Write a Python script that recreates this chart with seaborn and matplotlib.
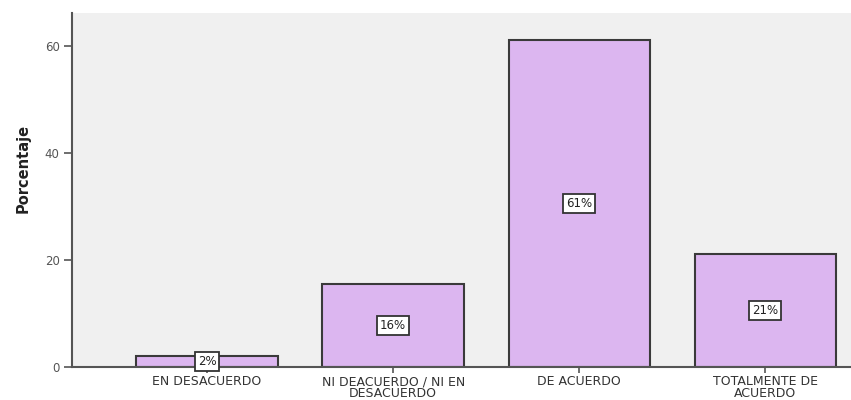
import matplotlib
matplotlib.use("Agg")
import matplotlib.pyplot as plt
import seaborn as sns
import pandas as pd

categories = ["EN DESACUERDO", "NI DEACUERDO / NI EN\nDESACUERDO", "DE ACUERDO", "TOTALMENTE DE\nACUERDO"]
percentages = [2.1, 15.6, 61.1, 21.1]
y_ticks = [0, 20, 40, 60]

sns.set_style("white")
plt.rcParams["font.family"] = ["DejaVu Sans"]

df = pd.DataFrame({"categoria": categories, "porcentaje": percentages})

fig = plt.figure(figsize=(8.51, 4.0), dpi=100)
ax = fig.add_axes([72 / 851, 33 / 400, 1 - 72 / 851, 354 / 400])
ax.set_facecolor("#f0f0f0")

sns.barplot(data=df, x="categoria", y="porcentaje", color="#dcb6f0",
            saturation=1, width=0.76, edgecolor="#3a3a3a", linewidth=1.5, ax=ax)

for i, v in enumerate(percentages):
    ax.text(i, v / 2, f"{v:.0f}%", ha="center", va="center", fontsize=8.5, color="#222222",
            bbox=dict(boxstyle="square,pad=0.25", facecolor="white", edgecolor="#333333", linewidth=1.3))

ax.set_xlim(-0.726, 3.46)
ax.set_ylim(0, 66.2)
ax.set_yticks(y_ticks)
ax.set_ylabel("Porcentaje", fontsize=10.5, fontweight="bold", color="#222222")
ax.yaxis.set_label_coords(-0.053, 0.562)
ax.set_xlabel("")
ax.tick_params(axis="y", direction="out", length=6, width=1.2, color="#555555", labelsize=8.5, labelcolor="#555555", left=True, pad=3)
ax.tick_params(axis="x", direction="out", length=4, width=1.2, color="#555555", labelsize=9, labelcolor="#333333", bottom=True, pad=2)
for lbl in ax.get_xticklabels():
    lbl.set_linespacing(0.85)

for side in ["top", "right"]:
    ax.spines[side].set_visible(False)
for side in ["left", "bottom"]:
    ax.spines[side].set_color("#555555")
    ax.spines[side].set_linewidth(1.5)

fig.savefig("out.png", dpi=100)
